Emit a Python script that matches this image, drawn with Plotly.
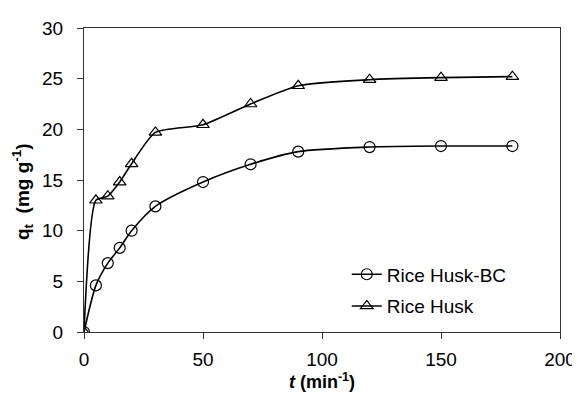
import plotly.graph_objects as go

t_min = [0, 5, 10, 15, 20, 30, 50, 70, 90, 120, 150, 180]
q_bc = [0, 4.6, 6.8, 8.3, 10.0, 12.4, 14.8, 16.55, 17.8, 18.25, 18.35, 18.35]
q_rh = [0, 13.0, 13.4, 14.8, 16.6, 19.7, 20.45, 22.5, 24.3, 24.9, 25.1, 25.2]
x_ticks = [0, 50, 100, 150, 200]
y_ticks = [0, 5, 10, 15, 20, 25, 30]

font_family = "Liberation Sans, Arial, sans-serif"

fig = go.Figure()
fig.add_trace(go.Scatter(
    x=t_min, y=q_bc, name="Rice Husk-BC", mode="lines+markers", legendgroup="bc",
    line=dict(color="black", width=1.6, shape="spline", smoothing=0.7),
    marker=dict(symbol="circle-open", size=11, color="black", line=dict(width=1.2)),
))
fig.add_trace(go.Scatter(
    x=t_min, y=q_rh, name="Rice Husk", mode="lines+markers", legendgroup="rh",
    line=dict(color="black", width=1.6, shape="spline", smoothing=0.6),
    marker=dict(symbol="triangle-up-open", size=11, color="black", line=dict(width=1.2)),
))

axis_common = dict(
    showgrid=False, zeroline=False, showline=True, linecolor="#333", linewidth=1.2,
    mirror=True, ticks="outside", ticklen=6, tickcolor="#333", tickwidth=1.2,
    tickfont=dict(size=19, color="black", family=font_family),
    automargin=False,
)

# page body has an 8px margin, so the figure is sized to fill the remaining window
fig.update_layout(
    width=572, height=388,
    margin=dict(l=76, r=20, t=20, b=64),
    paper_bgcolor="white", plot_bgcolor="white",
    font=dict(family=font_family, color="black"),
    xaxis=dict(range=[0, 200], tickvals=x_ticks, ticklabelstandoff=4,
               title=dict(text="<b><i>t</i> (min<sup>-1</sup>)</b>", font=dict(size=18), standoff=4),
               **axis_common),
    yaxis=dict(range=[0, 30], tickvals=y_ticks, ticklabelstandoff=10,
               **axis_common),
    legend=dict(x=0.552, y=0.252, xanchor="left", yanchor="top",
                font=dict(size=19, color="black"), bgcolor="rgba(0,0,0,0)",
                tracegroupgap=4, itemwidth=30),
)
fig.add_annotation(
    text="<b>q<sub>t</sub>  (mg g<sup>-1</sup>)</b>", textangle=-90,
    xref="paper", yref="paper", x=0, y=0.5, xanchor="center", yanchor="middle",
    xshift=-62, yshift=-12, showarrow=False, font=dict(size=19, color="black"),
)

fig.write_html("out.html")
